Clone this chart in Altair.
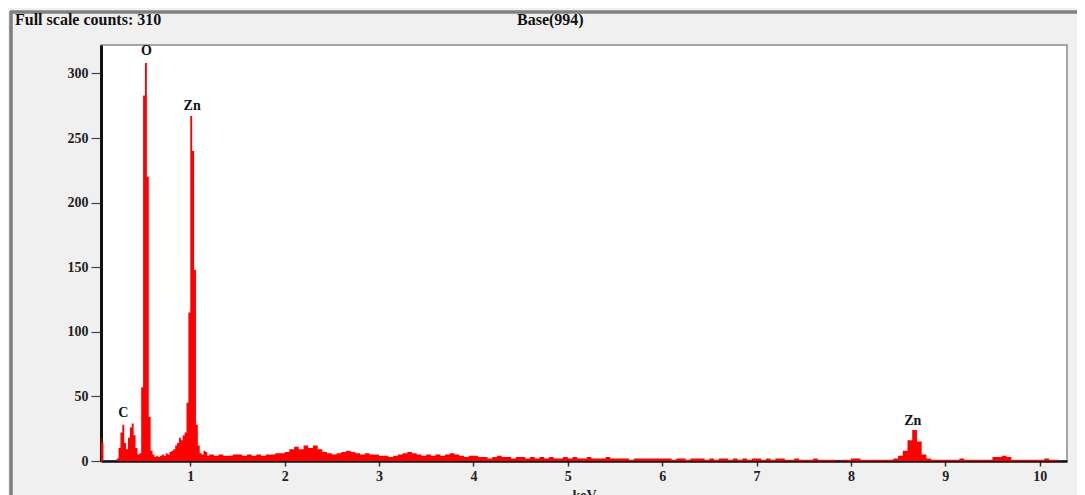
import altair as alt
import pandas as pd
import numpy as np

# ---- spectrum data (counts per channel) ----
# fine part: channels of 0.02 keV starting at 0.04 keV
low_start, low_step = 0.04, 0.02
low_counts = [
    18, 14, 0, 0, 0, 0, 0, 0, 0, 2,
    10, 22, 28, 14, 9, 18, 26, 29, 20, 10,
    5, 6, 57, 283, 308, 220, 34, 8, 5, 3,
    4, 3, 4, 5, 4, 6, 5, 7, 8, 9,
    12, 14, 18, 16, 20, 22, 45, 115, 267, 240,
    148, 28, 12, 6, 5, 8, 7, 4, 5,
]
# coarse part: channels of 0.05 keV starting at 1.25 keV
high_start, high_step = 1.25, 0.05
high_counts = [
    4, 5, 4, 4, 5, 5, 4, 5, 4, 5, 4, 5, 5, 6, 6,                       # 1.25-1.95
    7, 9, 11, 9, 12, 10, 12, 9, 7, 6, 5, 6, 7, 8, 7, 6, 5, 6, 5, 5,   # 2.00-2.95
    4, 4, 3, 4, 5, 6, 7, 6, 5, 4, 5, 4, 5, 4, 5, 6, 5, 4, 3, 4,       # 3.00-3.95
    4, 3, 3, 2, 3, 4, 3, 3, 2, 3, 3, 2, 3, 2, 3, 2, 3, 2, 2, 3,       # 4.00-4.95
    2, 3, 2, 2, 3, 2, 2, 2, 3, 2, 2, 2, 2, 1, 2, 2, 2, 2, 2, 2,       # 5.00-5.95
    2, 2, 1, 2, 2, 1, 2, 2, 2, 1, 2, 1, 2, 2, 1, 2, 1, 2, 1, 2,       # 6.00-6.95
    2, 1, 2, 1, 2, 2, 1, 1, 2, 1, 1, 1, 2, 1, 1, 1, 1, 0, 1, 1,       # 7.00-7.95
    2, 2, 1, 1, 1, 1, 1, 1, 1, 2, 4, 8, 16, 24, 15, 5, 2, 1, 1, 1,    # 8.00-8.95
    1, 1, 1, 2, 1, 1, 1, 1, 1, 1, 3, 3, 4, 3, 1, 1, 1, 1, 1, 1,       # 9.00-9.95
    1, 2, 1, 1, 0, 0, 0,                                               # 10.00-10.30
]

peak_names = ["C", "O", "Zn", "Zn"]
peak_kev = [0.29, 0.535, 1.02, 8.655]
peak_label_y = [37, 317, 275, 31]

header_texts = ["Full scale counts: 310", "Base(994)"]

# ---- build table ----
kev = np.concatenate([
    np.round(low_start + low_step * np.arange(len(low_counts)), 3),
    np.round(high_start + high_step * np.arange(len(high_counts)), 3),
])
counts = low_counts + high_counts
spec = pd.DataFrame({"keV": kev, "counts": counts})
spec = pd.concat([spec, pd.DataFrame({"keV": [10.35], "counts": [0]})], ignore_index=True)

peaks = pd.DataFrame({"name": peak_names, "keV": peak_kev, "y": peak_label_y})

FONT = "Liberation Serif"
xscale = alt.Scale(domain=[0.054, 10.29], nice=False, zero=False)
yscale = alt.Scale(domain=[0, 322], nice=False)

area = alt.Chart(spec).mark_area(
    interpolate="step-after", color="#ff0000", clip=True, opacity=1
).encode(
    x=alt.X("keV:Q", scale=xscale,
            axis=alt.Axis(values=list(range(1, 11)), format="d", title="keV",
                          grid=False, tickSize=5, tickWidth=1.5, tickColor="#333",
                          domainColor="#111", domainWidth=2.5,
                          labelFont=FONT, labelFontWeight="bold", labelFontSize=14,
                          labelColor="#222", labelPadding=3,
                          titleFont=FONT, titleFontWeight="bold", titleFontSize=14,
                          titleColor="#222", titlePadding=5)),
    y=alt.Y("counts:Q", scale=yscale,
            axis=alt.Axis(values=[0, 50, 100, 150, 200, 250, 300], title=None,
                          grid=False, tickSize=10, tickWidth=1.2, tickColor="#444",
                          domainColor="#111", domainWidth=3,
                          labelFont=FONT, labelFontWeight="bold", labelFontSize=14,
                          labelColor="#222", labelPadding=3)),
)

labels = alt.Chart(peaks).mark_text(
    font=FONT, fontWeight="bold", fontSize=14, color="#111", baseline="middle"
).encode(
    x=alt.X("keV:Q", scale=xscale),
    y=alt.Y("y:Q", scale=yscale),
    text="name:N",
)

hdr = pd.DataFrame({"t": header_texts, "px": [-86, 416]})
header = alt.Chart(hdr).mark_text(
    font=FONT, fontWeight="bold", fontSize=16, color="#111", align="left", baseline="middle"
).encode(
    x=alt.X("px:Q", scale=None),
    y=alt.value(-25),
    text="t:N",
)

frame_top = alt.Chart(hdr).mark_rule(color="#808080", strokeWidth=3).encode(
    x=alt.value(-91), x2=alt.value(990), y=alt.value(-33)
)
frame_left = alt.Chart(hdr).mark_rule(color="#808080", strokeWidth=3).encode(
    x=alt.value(-90), y=alt.value(-34), y2=alt.value(470)
)

chart = alt.layer(frame_top, frame_left, area, labels, header).properties(
    width=966, height=416,
    autosize=alt.AutoSizeParams(type="none"),
    padding={"left": 93, "top": 37, "right": 10, "bottom": 34},
    background="#f0f0f0",
).configure_view(
    fill="white", stroke="#8a8a8a", strokeWidth=1.5
)

chart.save("out.html", embed_options={"renderer": "svg", "actions": False})
